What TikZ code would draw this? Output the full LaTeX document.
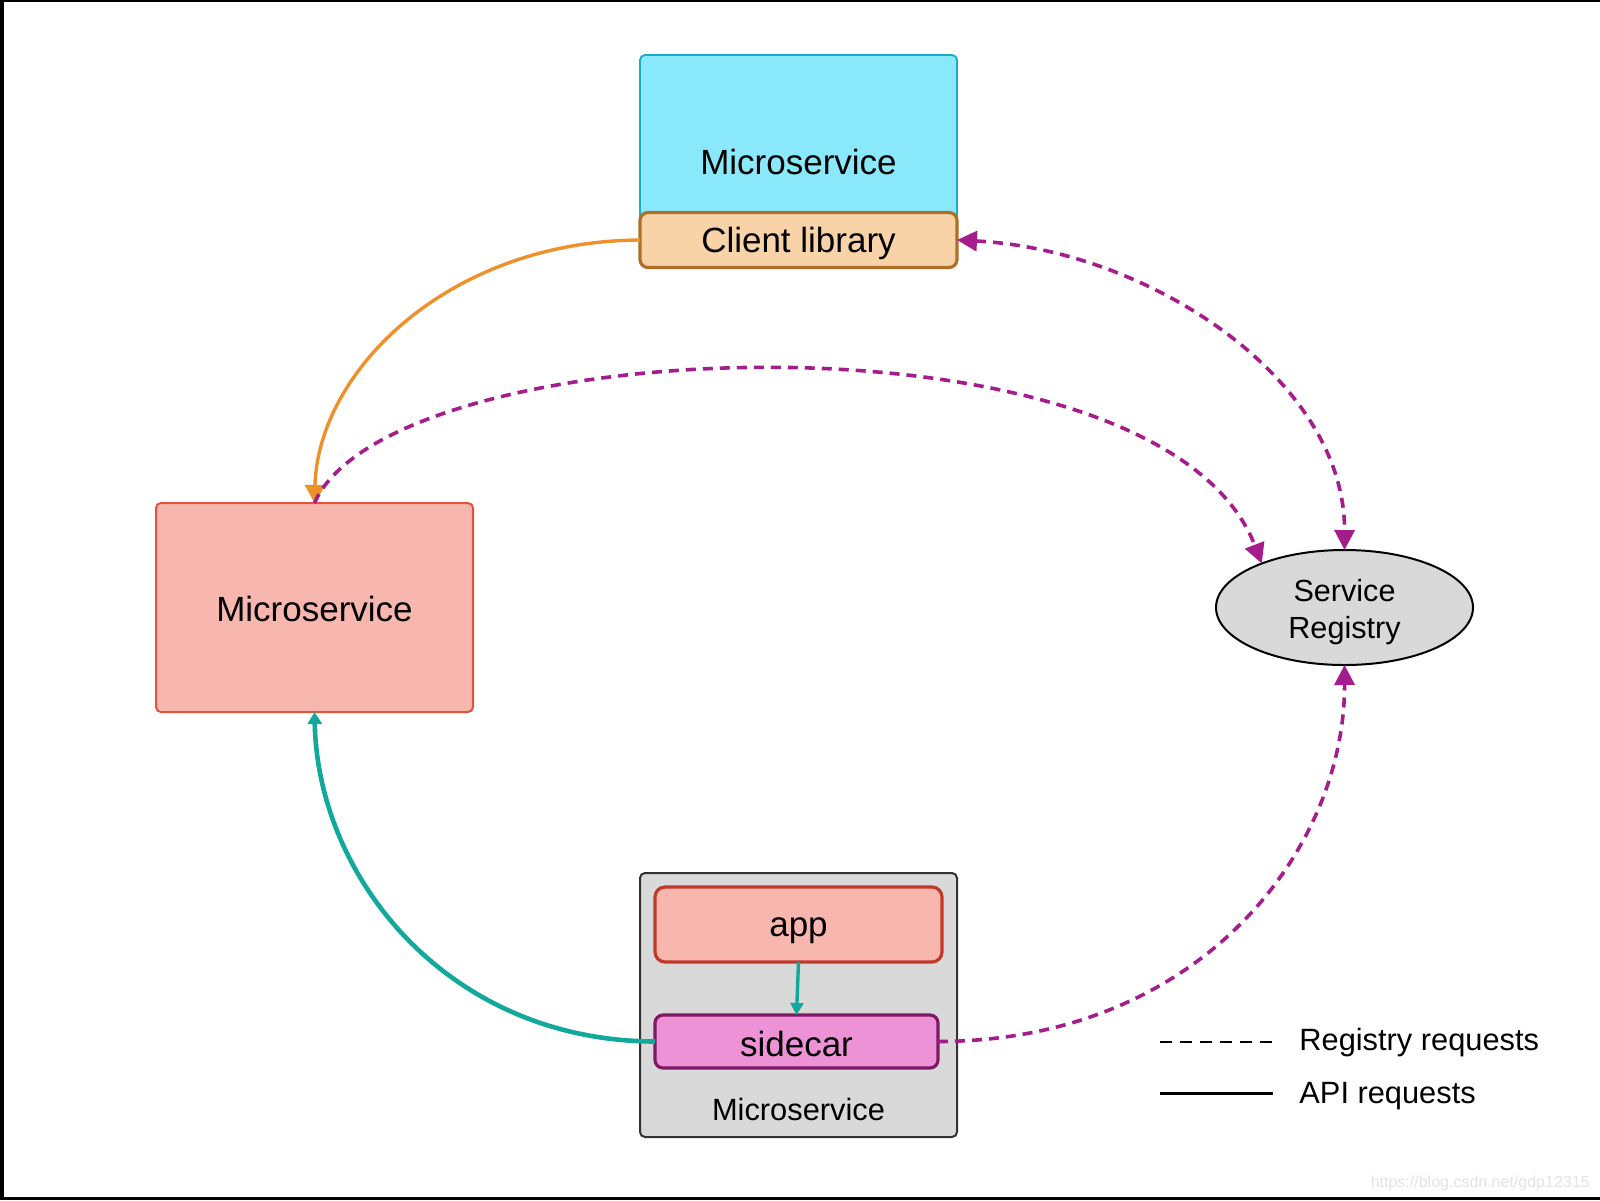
\documentclass[tikz,border=0pt]{standalone}
\usepackage{fontspec}
\setmainfont{Liberation Sans}
\usetikzlibrary{arrows.meta,shapes.geometric}
\definecolor{cyanfill}{HTML}{8AE8FB}
\definecolor{cyandraw}{HTML}{1BAACB}
\definecolor{libfill}{HTML}{F9D3A8}
\definecolor{libdraw}{HTML}{B06E28}
\definecolor{salmon}{HTML}{F7B7AE}
\definecolor{salmondraw}{HTML}{E0553A}
\definecolor{appdraw}{HTML}{C03A2B}
\definecolor{greyfill}{HTML}{D9D9D9}
\definecolor{greydraw}{HTML}{333333}
\definecolor{sidefill}{HTML}{EE92D8}
\definecolor{sidedraw}{HTML}{7D1A63}
\definecolor{regline}{HTML}{A51C8C}
\definecolor{apiorange}{HTML}{EE912A}
\definecolor{apiteal}{HTML}{12A89C}
\definecolor{wmark}{HTML}{E3E3E3}
\begin{document}
\begin{tikzpicture}[x=0.5pt,y=-0.5pt,
  box/.style={rectangle,inner sep=0pt,outer sep=0pt},
  lbl/.style={inner sep=0pt,font=\fontsize{17.5}{20}\selectfont},
  reg/.style={regline,line width=1.8pt,dash pattern=on 5pt off 3.5pt,
    -{Triangle[length=10pt,width=10pt]}},
  orangeapi/.style={apiorange,line width=1.7pt,-{Triangle[length=9pt,width=10pt]}},
  tealapi/.style={apiteal,line width=2.3pt,-{Triangle[length=6pt,width=7pt]}}
]
\useasboundingbox (0,0) rectangle (1600,1200);
\fill[white] (0,0) rectangle (1600,1200);
\fill[black] (0,0) rectangle (4,1200);
\fill[black] (0,0) rectangle (1600,2);
\fill[black] (0,1197) rectangle (1600,1200);

% top microservice with client library
\node[box,fill=cyanfill,draw=cyandraw,line width=0.9pt,rounded corners=2.5pt,
  minimum width=158.5pt,minimum height=85pt] (top) at (798.5,140) {};
\node[lbl] (toptxt) at (798.5,162) {Microservice};
\node[box,fill=libfill,draw=libdraw,line width=1.6pt,rounded corners=4pt,
  minimum width=158.5pt,minimum height=27.5pt] (client) at (798.5,240) {};
\node[lbl] (clienttxt) at (798.5,243) {Client library};

% left microservice
\node[box,fill=salmon,draw=salmondraw,line width=1pt,rounded corners=2.5pt,
  minimum width=158.5pt,minimum height=104.5pt] (lms) at (314.5,607.5) {};
\node[lbl] (lmstxt) at (314.5,609) {Microservice};

% bottom microservice with app and sidecar
\node[box,fill=greyfill,draw=greydraw,line width=1pt,rounded corners=2.5pt,
  minimum width=158.5pt,minimum height=132pt] (bms) at (798.5,1005) {};
\node[box,fill=salmon,draw=appdraw,line width=1.6pt,rounded corners=5pt,
  minimum width=143.5pt,minimum height=37.5pt] (app) at (798.5,924.5) {};
\node[lbl] (apptxt) at (798.5,931) {app};
\node[box,fill=sidefill,draw=sidedraw,line width=1.6pt,rounded corners=4pt,
  minimum width=141.5pt,minimum height=26.5pt] (sidecar) at (796.5,1041.5) {};
\node[lbl] (sidetxt) at (796.5,1044) {sidecar};
\node[inner sep=0pt,font=\fontsize{15.4}{18}\selectfont] (bmstxt) at (798.5,1109) {Microservice};

% service registry
\node[ellipse,inner sep=0pt,outer sep=0pt,fill=greyfill,draw=black,line width=1pt,
  minimum width=128.5pt,minimum height=57.5pt] (reg) at (1344.5,607.5) {};
\node[inner sep=0pt,align=center,font=\fontsize{15.3}{18.5}\selectfont] (regtxt) at (1344.5,612) {Service\\Registry};

% API requests
\draw[orangeapi] (client.west) .. controls (450,241) and (318,370) .. (lms.north);
\draw[tealapi] (sidecar.west) .. controls (450,1041) and (318,880) .. (lms.south);
\draw[apiteal,line width=1.7pt,-{Triangle[length=6pt,width=6.5pt]}] (app.south) -- (sidecar.north);

% registry requests
\draw[reg] (lms.north) .. controls (390,330) and (1160,300) .. (reg.152);
\draw[reg,{Triangle[length=10pt,width=10pt]}-{Triangle[length=10pt,width=10pt]}]
  (client.east) .. controls (1150,250) and (1345,380) .. (reg.north);
\draw[reg] (sidecar.east) .. controls (1200,1041) and (1345,850) .. (reg.south);

% legend
\coordinate (ld1) at (1160,1042);
\coordinate (ld2) at (1273,1042);
\coordinate (ls1) at (1160,1093);
\coordinate (ls2) at (1273,1093);
\draw[black,line width=1.3pt,dash pattern=on 6pt off 4pt] (ld1) -- (ld2);
\draw[black,line width=1.5pt] (ls1) -- (ls2);
\node[anchor=west,inner sep=0pt,font=\fontsize{15.4}{18}\selectfont] (legreg) at (1299,1043) {Registry requests};
\node[anchor=west,inner sep=0pt,font=\fontsize{15.4}{18}\selectfont] (legapi) at (1299,1096) {API requests};

% watermark
\node[anchor=east,inner sep=0pt,text=wmark,font=\fontsize{8}{9}\selectfont] (wm) at (1590,1183) {https://blog.csdn.net/gdp12315};
\end{tikzpicture}
\end{document}
